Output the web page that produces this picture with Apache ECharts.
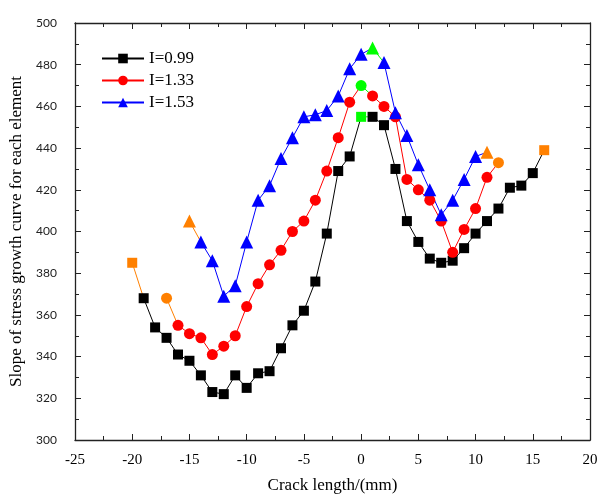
<!DOCTYPE html>
<html>
<head>
<meta charset="utf-8">
<script src="https://cdn.jsdelivr.net/npm/echarts@6/dist/echarts.min.js"></script>
<style>html,body{margin:0;padding:0;background:#fff}#c{width:601px;height:499px}</style>
</head>
<body>
<div id="c"></div>
<script>
// ---- data ----
const seriesNames = ['I=0.99', 'I=1.33', 'I=1.53'];
const xBlack = [-20,-19,-18,-17,-16,-15,-14,-13,-12,-11,-10,-9,-8,-7,-6,-5,-4,-3,-2,-1,0,1,2,3,4,5,6,7,8,9,10,11,12,13,14,15,16];
const yBlack = [385,368,354,349,341,338,331,323,322,331,325,332,333,344,355,362,376,399,429,436,455,455,451,430,405,395,387,385,386,392,399,405,411,421,422,428,439];
const xRed = [-17,-16,-15,-14,-13,-12,-11,-10,-9,-8,-7,-6,-5,-4,-3,-2,-1,0,1,2,3,4,5,6,7,8,9,10,11,12];
const yRed = [368,355,351,349,341,345,350,364,375,384,391,400,405,415,429,445,462,470,465,460,455,425,420,415,405,390,401,411,426,433];
const xBlue = [-15,-14,-13,-12,-11,-10,-9,-8,-7,-6,-5,-4,-3,-2,-1,0,1,2,3,4,5,6,7,8,9,10,11];
const yBlue = [405,395,386,369,374,395,415,422,435,445,455,456,458,465,478,485,488,481,457,446,432,420,408,415,425,436,438];
const peakX = [0, 0, 1];
const xTicks = [-25,-20,-15,-10,-5,0,5,10,15,20];
const yTicks = [300,320,340,360,380,400,420,440,460,480,500];

// ---- styles ----
const ORANGE = '#ff8000', GREEN = '#00ff00';
const SERIF = '"Liberation Serif","Times New Roman",serif';
const AXIS_COLOR = '#222';
const GRID = { left: 73, right: 11, top: 23, bottom: 58 };

function build(name, xs, ys, base, symbol, size, pk) {
  const n = xs.length;
  const colors = xs.map((x, i) => (i === 0 || i === n - 1) ? ORANGE : (x === pk ? GREEN : base));
  const mainData = [];
  const extras = [];
  for (let i = 0; i < n; i++) {
    mainData.push({ value: [xs[i], ys[i]], itemStyle: { color: colors[i] } });
    if (i < n - 1 && colors[i] !== base) {
      mainData.push({ value: [(xs[i] + xs[i + 1]) / 2, '-'] });
      extras.push({
        type: 'line', data: [[xs[i], ys[i]], [xs[i + 1], ys[i + 1]]],
        symbol: 'none', silent: true, z: 1, animation: false,
        lineStyle: { color: colors[i], width: 1 }
      });
    }
  }
  const main = {
    name: name, type: 'line', data: mainData, z: 2,
    symbol: symbol, symbolSize: size, showSymbol: true, showAllSymbol: true,
    connectNulls: false, animation: false,
    itemStyle: { color: base }, lineStyle: { color: base, width: 1 }
  };
  return [main].concat(extras);
}

const series = [].concat(
  build(seriesNames[0], xBlack, yBlack, '#000000', 'rect', 10, peakX[0]),
  build(seriesNames[1], xRed, yRed, '#ff0000', 'circle', 11, peakX[1]),
  build(seriesNames[2], xBlue, yBlue, '#0000ff', 'triangle', 13, peakX[2])
);

function axLine() { return { show: true, onZero: false, lineStyle: { color: AXIS_COLOR, width: 1.3 } }; }
function tick() { return { show: true, inside: true, length: 6, lineStyle: { color: AXIS_COLOR } }; }
function minor() { return { show: true, splitNumber: 2, length: 4, lineStyle: { color: AXIS_COLOR } }; }

const chart = echarts.init(document.getElementById('c'), null, { renderer: 'canvas' });
chart.setOption({
  animation: false,
  backgroundColor: '#fff',
  grid: GRID,
  legend: {
    data: seriesNames, orient: 'vertical', left: 96, top: 45,
    itemWidth: 42, itemHeight: 12, itemGap: 5,
    textStyle: { fontFamily: SERIF, fontSize: 17, color: '#000' }
  },
  xAxis: [{
    type: 'value', min: xTicks[0], max: xTicks[xTicks.length - 1], interval: 5,
    name: 'Crack length/(mm)', nameLocation: 'middle', nameGap: 37,
    nameTextStyle: { fontFamily: SERIF, fontSize: 17, color: '#000' },
    axisLine: axLine(), axisTick: tick(), minorTick: minor(),
    axisLabel: { fontFamily: SERIF, fontSize: 15, color: '#000', margin: 13 },
    splitLine: { show: false }
  }, {
    type: 'value', position: 'top', min: xTicks[0], max: xTicks[xTicks.length - 1], interval: 5,
    axisLine: axLine(), axisTick: tick(), minorTick: minor(),
    axisLabel: { show: false }, splitLine: { show: false }
  }],
  yAxis: [{
    type: 'value', min: yTicks[0], max: yTicks[yTicks.length - 1], interval: 20,
    name: 'Slope of stress growth curve for each element', nameLocation: 'middle', nameGap: 50,
    nameTextStyle: { fontFamily: SERIF, fontSize: 17, color: '#000' },
    axisLine: axLine(), axisTick: tick(), minorTick: minor(),
    axisLabel: { fontFamily: '"Lato","Noto Sans",sans-serif', fontSize: 12, color: '#222', margin: 18 },
    splitLine: { show: false }
  }, {
    type: 'value', position: 'right', min: yTicks[0], max: yTicks[yTicks.length - 1], interval: 20,
    axisLine: axLine(), axisTick: tick(), minorTick: minor(),
    axisLabel: { show: false }, splitLine: { show: false }
  }],
  series: series
});
</script>
</body>
</html>
